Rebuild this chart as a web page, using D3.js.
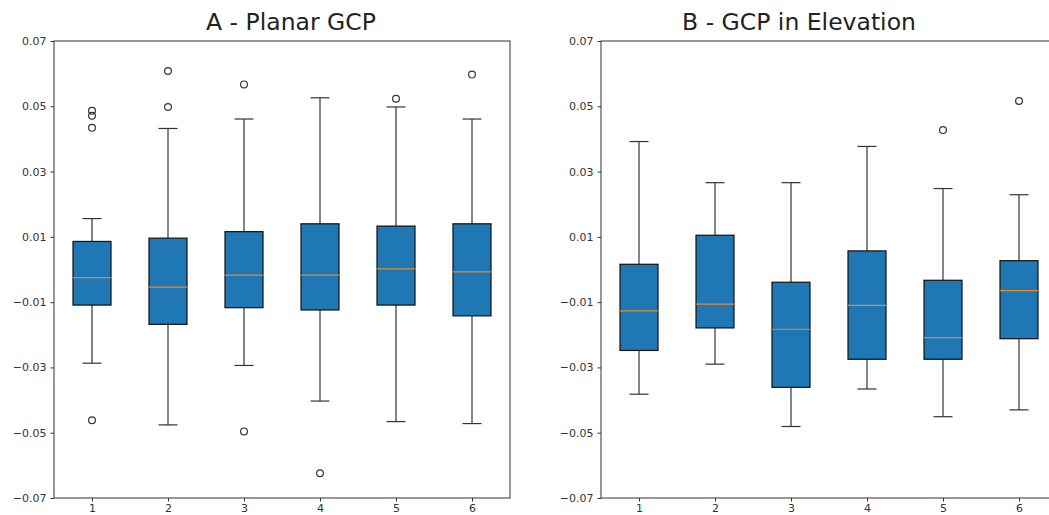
<!doctype html>
<html lang="en">
<head>
<meta charset="UTF-8">
<script src="https://cdn.jsdelivr.net/npm/d3@7"></script>
<style>
  html, body { margin: 0; padding: 0; background: #fff; }
  svg { display: block; font-family: "DejaVu Sans", sans-serif; }
</style>
</head>
<body>
<div id="chart"></div>
<script>
// categories and tick labels
var categories = [1, 2, 3, 4, 5, 6];
var yTicks = [0.07, 0.05, 0.03, 0.01, -0.01, -0.03, -0.05, -0.07];

// A - Planar GCP
var aWhiskerHigh = [0.0156, 0.0432, 0.0461, 0.0526, 0.0498, 0.0461];
var aQ3 = [0.0086, 0.0096, 0.0116, 0.0140, 0.0133, 0.0140];
var aMedian = [-0.0025, -0.0054, -0.0017, -0.0017, 0.0002, -0.0007];
var aQ1 = [-0.0109, -0.0168, -0.0117, -0.0124, -0.0109, -0.0142];
var aWhiskerLow = [-0.0287, -0.0476, -0.0294, -0.0403, -0.0466, -0.0472];
var aOutliers = [[0.0486, 0.0471, 0.0434, -0.0462], [0.0608, 0.0498], [0.0567, -0.0496], [-0.0624], [0.0523], [0.0597]];

// B - GCP in Elevation
var bWhiskerHigh = [0.0392, 0.0266, 0.0266, 0.0377, 0.0248, 0.0229];
var bQ3 = [0.0016, 0.0105, -0.0039, 0.0057, -0.0033, 0.0027];
var bMedian = [-0.0127, -0.0106, -0.0183, -0.0110, -0.0209, -0.0065];
var bQ1 = [-0.0248, -0.0179, -0.0361, -0.0275, -0.0275, -0.0212];
var bWhiskerLow = [-0.0382, -0.0290, -0.0481, -0.0366, -0.0451, -0.0430];
var bOutliers = [[], [], [], [], [0.0427], [0.0516]];

var W = 1049, H = 515;
var svg = d3.select("#chart").append("svg")
    .attr("width", W)
    .attr("height", H);

function buildRows(hi, q3, med, q1, lo, out) {
    return categories.map(function (c, i) {
        return {cat: c, hi: hi[i], q3: q3[i], med: med[i], q1: q1[i], lo: lo[i], out: out[i]};
    });
}

function drawPanel(left, right, titleX, title, rows) {
    var top = 41, bottom = 498;
    var x = d3.scaleLinear().domain([0.5, 6.5]).range([left, right]);
    var y = d3.scaleLinear().domain([-0.07, 0.07]).range([bottom, top]);
    var boxW = x(1.25) - x(0.75);
    var capW = boxW / 2;

    var g = svg.append("g");

    // whiskers
    var wh = g.append("g").selectAll("g").data(rows).enter().append("g");
    wh.append("line")
        .attr("x1", function (d) { return x(d.cat); })
        .attr("x2", function (d) { return x(d.cat); })
        .attr("y1", function (d) { return y(d.q3); })
        .attr("y2", function (d) { return y(d.hi); })
        .attr("stroke", "#333").attr("stroke-width", 1.2);
    wh.append("line")
        .attr("x1", function (d) { return x(d.cat); })
        .attr("x2", function (d) { return x(d.cat); })
        .attr("y1", function (d) { return y(d.q1); })
        .attr("y2", function (d) { return y(d.lo); })
        .attr("stroke", "#333").attr("stroke-width", 1.2);
    wh.append("line")
        .attr("x1", function (d) { return x(d.cat) - capW / 2; })
        .attr("x2", function (d) { return x(d.cat) + capW / 2; })
        .attr("y1", function (d) { return y(d.hi); })
        .attr("y2", function (d) { return y(d.hi); })
        .attr("stroke", "#333").attr("stroke-width", 1.2);
    wh.append("line")
        .attr("x1", function (d) { return x(d.cat) - capW / 2; })
        .attr("x2", function (d) { return x(d.cat) + capW / 2; })
        .attr("y1", function (d) { return y(d.lo); })
        .attr("y2", function (d) { return y(d.lo); })
        .attr("stroke", "#333").attr("stroke-width", 1.2);

    // boxes
    g.append("g").selectAll("rect").data(rows).enter().append("rect")
        .attr("x", function (d) { return x(d.cat) - boxW / 2; })
        .attr("width", boxW)
        .attr("y", function (d) { return y(d.q3); })
        .attr("height", function (d) { return y(d.q1) - y(d.q3); })
        .attr("fill", "#1f77b4")
        .attr("stroke", "#111").attr("stroke-width", 1.2);

    // medians
    g.append("g").selectAll("line").data(rows).enter().append("line")
        .attr("x1", function (d) { return x(d.cat) - boxW / 2; })
        .attr("x2", function (d) { return x(d.cat) + boxW / 2; })
        .attr("y1", function (d) { return y(d.med); })
        .attr("y2", function (d) { return y(d.med); })
        .attr("stroke", "#e8892e").attr("stroke-width", 1.2);

    // outliers
    var fl = [];
    rows.forEach(function (d) { d.out.forEach(function (v) { fl.push({cat: d.cat, v: v}); }); });
    g.append("g").selectAll("circle").data(fl).enter().append("circle")
        .attr("cx", function (d) { return x(d.cat); })
        .attr("cy", function (d) { return y(d.v); })
        .attr("r", 3.4)
        .attr("fill", "none")
        .attr("stroke", "#333").attr("stroke-width", 1.2);

    // frame
    g.append("rect")
        .attr("x", left).attr("y", top)
        .attr("width", right - left).attr("height", bottom - top)
        .attr("fill", "none").attr("stroke", "#333").attr("stroke-width", 1);

    // axes
    var fmt = function (d) { return d3.format(".2f")(d).replace("-", "\u2212"); };
    var ya = g.append("g")
        .attr("transform", "translate(" + left + ",0)")
        .call(d3.axisLeft(y).tickValues(yTicks).tickFormat(fmt).tickSize(3.5).tickPadding(4));
    var xa = g.append("g")
        .attr("transform", "translate(0," + bottom + ")")
        .call(d3.axisBottom(x).tickValues(categories).tickFormat(d3.format("d")).tickSize(3.5).tickPadding(3));
    [ya, xa].forEach(function (a) {
        a.select(".domain").remove();
        a.selectAll("line").attr("stroke", "#333");
        a.selectAll("text").attr("fill", "#333").style("font-size", "11px").style("font-family", "DejaVu Sans");
    });

    // title
    svg.append("text")
        .attr("x", titleX).attr("y", 30)
        .attr("text-anchor", "middle")
        .style("font-size", "23.5px")
        .attr("fill", "#222")
        .text(title);
}

drawPanel(54, 510, 291, "A - Planar GCP",
    buildRows(aWhiskerHigh, aQ3, aMedian, aQ1, aWhiskerLow, aOutliers));
drawPanel(601, 1057, 799, "B - GCP in Elevation",
    buildRows(bWhiskerHigh, bQ3, bMedian, bQ1, bWhiskerLow, bOutliers));
</script>
</body>
</html>
